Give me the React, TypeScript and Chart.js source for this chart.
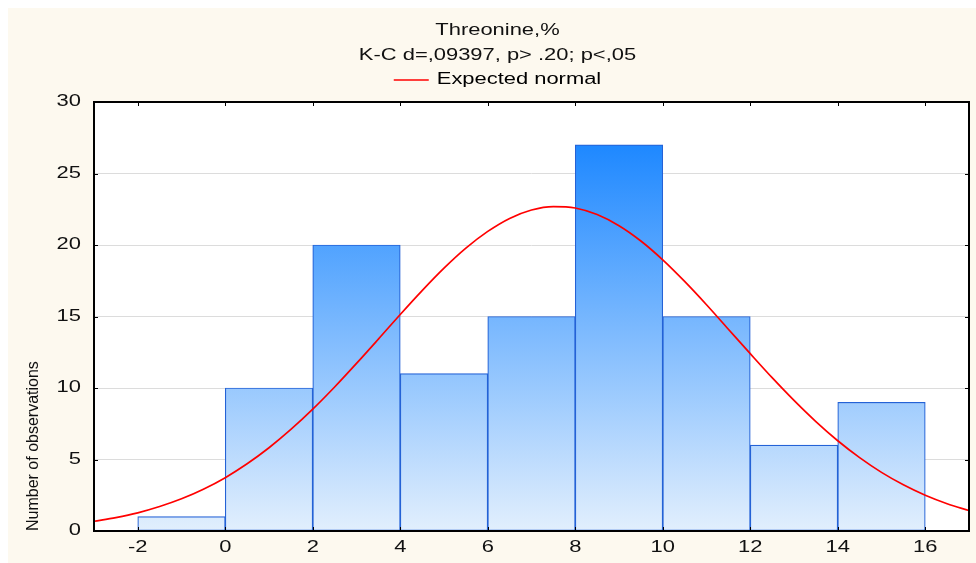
import React, { useEffect, useRef } from "react";
import { Chart, registerables } from "chart.js";

Chart.register(...registerables);

// ---- data ----
const TITLE = "Threonine,%";
const SUBTITLE = "K-C d=,09397, p> .20; p<,05";
const LEGEND_LABEL = "Expected normal";
const Y_TITLE = "Number of observations";

const BIN_MIDPOINTS = [-1, 1, 3, 5, 7, 9, 11, 13, 15];
const COUNTS = [1, 10, 20, 11, 15, 27, 15, 6, 9];

const NORMAL_X = [
  -3, -2.5, -2, -1.5, -1, -0.5, 0, 0.5, 1, 1.5, 2, 2.5, 3, 3.5, 4, 4.5, 5, 5.5, 6, 6.5, 7,
  7.5, 8, 8.5, 9, 9.5, 10, 10.5, 11, 11.5, 12, 12.5, 13, 13.5, 14, 14.5, 15, 15.5, 16, 16.5, 17,
];
const NORMAL_Y = [
  0.68, 0.94, 1.27, 1.71, 2.25, 2.92, 3.73, 4.7, 5.82, 7.1, 8.52, 10.07, 11.72, 13.42, 15.14,
  16.81, 18.38, 19.78, 20.95, 21.86, 22.45, 22.69, 22.59, 22.13, 21.35, 20.28, 18.96, 17.45,
  15.82, 14.11, 12.4, 10.72, 9.13, 7.65, 6.31, 5.13, 4.1, 3.23, 2.5, 1.91, 1.43,
];

const X_MIN = -3;
const X_MAX = 17;
const X_TICKS = [-2, 0, 2, 4, 6, 8, 10, 12, 14, 16];
const Y_MIN = 0;
const Y_MAX = 30;
const Y_STEP = 5;

// ---- styling ----
const FONT = "'Liberation Sans', Arial, Helvetica, sans-serif";
const TEXT_STRETCH = 1.37;
const PANEL_BG = "#FDF9EF";

function patchContext(ctx: any) {
  if (ctx.__stretched) return;
  ctx.__stretched = true;
  const origFill = ctx.fillText.bind(ctx);
  const origMeasure = ctx.measureText.bind(ctx);
  ctx.measureText = (text: string) => {
    const m = origMeasure(text);
    return {
      width: m.width * TEXT_STRETCH,
      actualBoundingBoxAscent: m.actualBoundingBoxAscent,
      actualBoundingBoxDescent: m.actualBoundingBoxDescent,
      actualBoundingBoxLeft: m.actualBoundingBoxLeft * TEXT_STRETCH,
      actualBoundingBoxRight: m.actualBoundingBoxRight * TEXT_STRETCH,
      fontBoundingBoxAscent: m.fontBoundingBoxAscent,
      fontBoundingBoxDescent: m.fontBoundingBoxDescent,
    };
  };
  ctx.fillText = (text: string, x: number, y: number, maxWidth?: number) => {
    const t = ctx.getTransform();
    if (Math.abs(t.b) > 1e-6 || Math.abs(t.c) > 1e-6) {
      if (maxWidth === undefined) origFill(text, x, y);
      else origFill(text, x, y, maxWidth);
      return;
    }
    ctx.save();
    ctx.translate(x, y);
    ctx.scale(TEXT_STRETCH, 1);
    if (maxWidth === undefined) origFill(text, 0, 0);
    else origFill(text, 0, 0, maxWidth / TEXT_STRETCH);
    ctx.restore();
  };
}

const backgroundPlugin = {
  id: "panelBackground",
  beforeDraw(chart: any) {
    const { ctx, chartArea } = chart;
    ctx.save();
    ctx.fillStyle = PANEL_BG;
    ctx.fillRect(0, 0, chart.width, chart.height);
    ctx.fillStyle = "#FFFFFF";
    ctx.fillRect(chartArea.left, chartArea.top, chartArea.right - chartArea.left, chartArea.bottom - chartArea.top);
    ctx.restore();
  },
};

const legendGapPlugin = {
  id: "legendGap",
  beforeLayout(chart: any) {
    const lg = chart.legend;
    if (lg && !lg.__gap) {
      lg.__gap = true;
      const f = lg.fit.bind(lg);
      lg.fit = () => {
        f();
        lg.height += 4;
      };
    }
  },
};

const framePlugin = {
  id: "frame",
  afterDatasetsDraw(chart: any) {
    const { ctx, chartArea, scales } = chart;
    const { left, right, top, bottom } = chartArea;
    ctx.save();
    ctx.strokeStyle = "#000000";
    ctx.lineWidth = 1;
    const tl = 4;
    ctx.beginPath();
    for (let v = Y_MIN; v <= Y_MAX; v += Y_STEP) {
      const py = Math.round(scales.y.getPixelForValue(v)) + 0.5;
      ctx.moveTo(left, py);
      ctx.lineTo(left + tl, py);
      ctx.moveTo(right, py);
      ctx.lineTo(right - tl, py);
    }
    for (const v of X_TICKS) {
      const px = Math.round(scales.x.getPixelForValue(v)) + 0.5;
      ctx.moveTo(px, top);
      ctx.lineTo(px, top + tl);
      ctx.moveTo(px, bottom);
      ctx.lineTo(px, bottom - tl);
    }
    ctx.stroke();
    ctx.lineWidth = 2;
    ctx.strokeRect(left, top, right - left, bottom - top);
    ctx.restore();
  },
};

export default function App() {
  const canvasRef = useRef<HTMLCanvasElement | null>(null);

  useEffect(() => {
    const canvas = canvasRef.current;
    if (!canvas) return;
    const ctx2d = canvas.getContext("2d");
    patchContext(ctx2d);

    const maxCount = Math.max(...COUNTS);

    const chart = new Chart(canvas, {
      data: {
        datasets: [
          {
            type: "line",
            label: LEGEND_LABEL,
            data: NORMAL_X.map((x, i) => ({ x, y: NORMAL_Y[i] })),
            borderColor: "#FF0000",
            backgroundColor: "#FF0000",
            borderWidth: 1.7,
            pointRadius: 0,
            cubicInterpolationMode: "monotone",
            fill: false,
            order: 0,
          } as any,
          {
            type: "bar",
            label: "Observations",
            data: BIN_MIDPOINTS.map((x, i) => ({ x, y: COUNTS[i] })),
            backgroundColor: (c: any) => {
              const ch = c.chart;
              if (!ch.chartArea) return "#7AB8FF";
              const y0 = ch.scales.y.getPixelForValue(0);
              const y1 = ch.scales.y.getPixelForValue(maxCount);
              const g = ch.ctx.createLinearGradient(0, y1, 0, y0);
              g.addColorStop(0, "#1E88FF");
              g.addColorStop(1, "#E2EFFD");
              return g;
            },
            borderColor: "#2462D6",
            borderWidth: 1.2,
            borderSkipped: false,
            barPercentage: 1,
            categoryPercentage: 1,
            order: 1,
          } as any,
        ],
      },
      options: {
        responsive: false,
        animation: false,
        devicePixelRatio: 1,
        layout: { padding: { top: 0, left: 18, right: 7, bottom: 0 } },
        plugins: {
          title: {
            display: true,
            text: TITLE,
            color: "#111111",
            font: { family: FONT, size: 16, weight: "normal" },
            padding: { top: 12.5, bottom: 0 },
          },
          subtitle: {
            display: true,
            text: SUBTITLE,
            color: "#111111",
            font: { family: FONT, size: 16, weight: "normal" },
            padding: { top: 6.7, bottom: 0 },
          },
          legend: {
            display: true,
            position: "top",
            labels: {
              color: "#111111",
              font: { family: FONT, size: 16 },
              padding: 6.4,
              usePointStyle: true,
              pointStyleWidth: 35,
              generateLabels: () => [
                {
                  text: LEGEND_LABEL,
                  fillStyle: "#FF0000",
                  strokeStyle: "#FF0000",
                  lineWidth: 1.6,
                  pointStyle: "line",
                  datasetIndex: 0,
                  hidden: false,
                },
              ],
            },
          },
          tooltip: { enabled: false },
        },
        scales: {
          x: {
            type: "linear",
            min: X_MIN,
            max: X_MAX,
            offset: false,
            afterBuildTicks: (scale: any) => {
              scale.ticks = X_TICKS.map((v) => ({ value: v }));
            },
            afterFit: (scale: any) => {
              scale.height = 32;
            },
            grid: { display: false, drawTicks: false },
            border: { display: false },
            ticks: {
              color: "#111111",
              font: { family: FONT, size: 16 },
              padding: 7.4,
              maxRotation: 0,
              autoSkip: false,
              callback: (v: any) => String(v),
            },
          },
          y: {
            type: "linear",
            min: Y_MIN,
            max: Y_MAX,
            afterFit: (scale: any) => {
              scale.width = 68;
            },
            grid: { color: "#DCDCDC", lineWidth: 1, drawTicks: false },
            border: { display: false },
            ticks: {
              stepSize: Y_STEP,
              color: "#111111",
              font: { family: FONT, size: 16 },
              padding: 13,
            },
            title: {
              display: true,
              text: Y_TITLE,
              align: "start",
              color: "#111111",
              font: { family: FONT, size: 16, lineHeight: 1 },
              padding: 0,
            },
          },
        },
      } as any,
      plugins: [backgroundPlugin, legendGapPlugin, framePlugin],
    });

    return () => chart.destroy();
  }, []);

  return (
    <div style={{ position: "absolute", left: 8, top: 8, width: 968, height: 555 }}>
      <canvas ref={canvasRef} width={968} height={555} style={{ display: "block", width: 968, height: 555 }} />
    </div>
  );
}
